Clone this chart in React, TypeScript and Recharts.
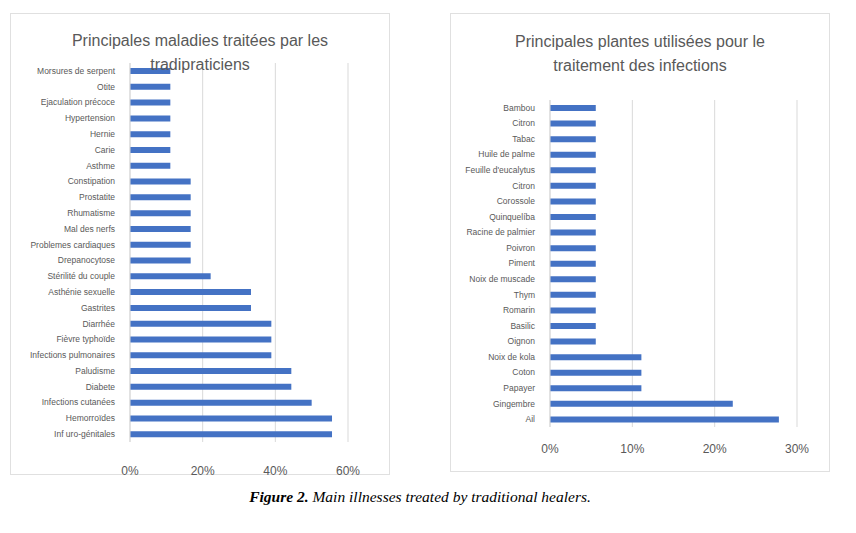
import React from "react";
import { BarChart, Bar, XAxis, YAxis, CartesianGrid } from "recharts";

const diseaseNames = [
  "Morsures de serpent",
  "Otite",
  "Ejaculation précoce",
  "Hypertension",
  "Hernie",
  "Carie",
  "Asthme",
  "Constipation",
  "Prostatite",
  "Rhumatisme",
  "Mal des nerfs",
  "Problemes cardiaques",
  "Drepanocytose",
  "Stérilité du couple",
  "Asthénie sexuelle",
  "Gastrites",
  "Diarrhée",
  "Fièvre typhoïde",
  "Infections pulmonaires",
  "Paludisme",
  "Diabete",
  "Infections cutanées",
  "Hemorroïdes",
  "Inf uro-génitales",
];
const diseaseValues = [
  0.111, 0.111, 0.111, 0.111, 0.111, 0.111, 0.111,
  0.167, 0.167, 0.167, 0.167, 0.167, 0.167,
  0.222, 0.333, 0.333, 0.389, 0.389, 0.389,
  0.444, 0.444, 0.5, 0.556, 0.556,
];
const diseaseTicks = [0, 0.2, 0.4, 0.6];

const plantNames = [
  "Bambou",
  "Citron",
  "Tabac",
  "Huile de palme",
  "Feuille d'eucalytus",
  "Citron",
  "Corossole",
  "Quinquelíba",
  "Racine de palmier",
  "Poivron",
  "Piment",
  "Noix de muscade",
  "Thym",
  "Romarin",
  "Basilic",
  "Oignon",
  "Noix de kola",
  "Coton",
  "Papayer",
  "Gingembre",
  "Ail",
];
const plantValues = [
  0.0556, 0.0556, 0.0556, 0.0556, 0.0556, 0.0556, 0.0556, 0.0556,
  0.0556, 0.0556, 0.0556, 0.0556, 0.0556, 0.0556, 0.0556, 0.0556,
  0.111, 0.111, 0.111, 0.222, 0.278,
];
const plantTicks = [0, 0.1, 0.2, 0.3];

const diseaseData = diseaseNames.map((name, i) => ({ name, value: diseaseValues[i] }));
const plantData = plantNames.map((name, i) => ({ name, value: plantValues[i] }));

const BLUE = "#4472C4";
const GRID = "#d9d9d9";
const TEXT = "#595959";
const FONT = "'Liberation Sans', Arial, sans-serif";
const pct = (v: number) => `${Math.round(v * 100)}%`;

const CatTick = (props: any) => {
  const { x, y, payload } = props;
  return (
    <text
      x={x - 7}
      y={y}
      dy="0.35em"
      textAnchor="end"
      fill={TEXT}
      fontSize={8.5}
      fontFamily={FONT}
    >
      {payload.value}
    </text>
  );
};

const boxStyle: React.CSSProperties = {
  position: "absolute",
  border: "1px solid #e0e0e0",
  background: "#fff",
  boxSizing: "border-box",
};

const titleStyle: React.CSSProperties = {
  position: "absolute",
  textAlign: "center",
  fontFamily: FONT,
  fontSize: 16,
  lineHeight: "24px",
  color: TEXT,
  zIndex: 2,
  pointerEvents: "none",
};

export default function App() {
  return (
    <div
      style={{
        position: "absolute",
        left: 0,
        top: 0,
        width: 856,
        height: 533,
        background: "#fff",
        overflow: "hidden",
      }}
    >
      <div style={{ ...boxStyle, left: 10, top: 13, width: 380, height: 462 }} />
      <div style={{ ...boxStyle, left: 450, top: 13, width: 380, height: 459 }} />

      <div style={{ ...titleStyle, left: 10, top: 29, width: 380 }}>
        Principales maladies traitées par les
        <br />
        tradipraticiens
      </div>
      <div style={{ ...titleStyle, left: 450, top: 30, width: 380 }}>
        Principales plantes utilisées pour le
        <br />
        traitement des infections
      </div>

      <div style={{ position: "absolute", left: 10, top: 13, zIndex: 1 }}>
        <BarChart
          width={380}
          height={476}
          layout="vertical"
          data={diseaseData}
          margin={{ top: 50, right: 42, bottom: 17, left: 0 }}
          barCategoryGap={0}
        >
          <CartesianGrid horizontal={false} stroke={GRID} />
          <XAxis
            type="number"
            domain={[0, 0.6]}
            ticks={diseaseTicks}
            tickFormatter={pct}
            axisLine={false}
            tickLine={false}
            tickMargin={18}
            height={30}
            tick={{ fill: TEXT, fontSize: 12, fontFamily: FONT }}
          />
          <YAxis
            type="category"
            dataKey="name"
            width={120}
            interval={0}
            axisLine={{ stroke: GRID }}
            tickLine={false}
            tick={<CatTick />}
          />
          <Bar dataKey="value" fill={BLUE} barSize={6} isAnimationActive={false} />
        </BarChart>
      </div>

      <div style={{ position: "absolute", left: 450, top: 13, zIndex: 1 }}>
        <BarChart
          width={380}
          height={459}
          layout="vertical"
          data={plantData}
          margin={{ top: 87, right: 33, bottom: 15, left: 0 }}
          barCategoryGap={0}
        >
          <CartesianGrid horizontal={false} stroke={GRID} />
          <XAxis
            type="number"
            domain={[0, 0.3]}
            ticks={plantTicks}
            tickFormatter={pct}
            axisLine={false}
            tickLine={false}
            tickMargin={11}
            height={30}
            tick={{ fill: TEXT, fontSize: 12, fontFamily: FONT }}
          />
          <YAxis
            type="category"
            dataKey="name"
            width={100}
            interval={0}
            axisLine={{ stroke: GRID }}
            tickLine={false}
            tick={<CatTick />}
          />
          <Bar dataKey="value" fill={BLUE} barSize={6} isAnimationActive={false} />
        </BarChart>
      </div>

      <div
        style={{
          position: "absolute",
          left: 0,
          width: 840,
          top: 488,
          textAlign: "center",
          fontFamily: "'Liberation Serif', 'Times New Roman', serif",
          fontStyle: "italic",
          fontSize: 15.5,
          color: "#000",
        }}
      >
        <b>Figure 2.</b> Main illnesses treated by traditional healers.
      </div>
    </div>
  );
}
